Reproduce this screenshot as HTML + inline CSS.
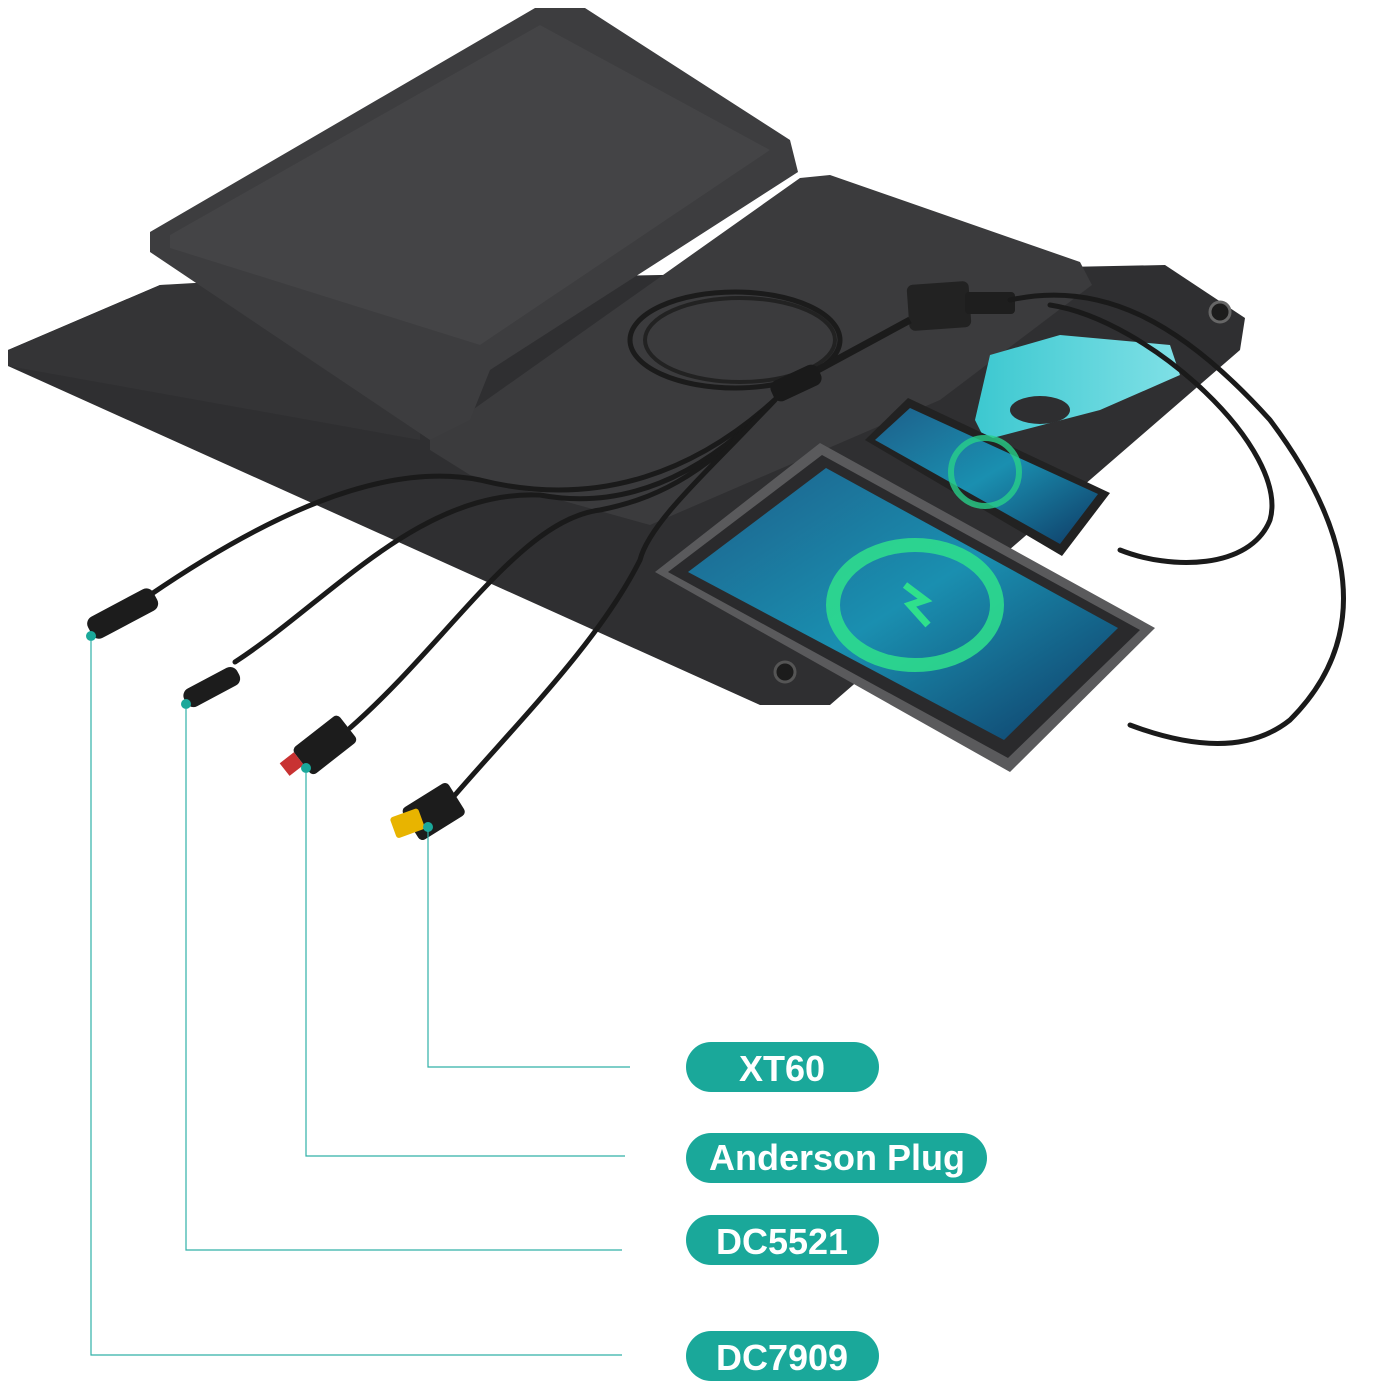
<!DOCTYPE html>
<html><head><meta charset="utf-8"><style>
html,body{margin:0;padding:0;background:#fff;}
svg{display:block}
text{font-family:"Liberation Sans",sans-serif;font-weight:bold;fill:#fff}
</style></head><body>
<svg width="1384" height="1384" viewBox="0 0 1384 1384" xmlns="http://www.w3.org/2000/svg">
<defs>
<linearGradient id="scr" x1="0" y1="0" x2="1" y2="1">
<stop offset="0" stop-color="#1d5f8a"/><stop offset="0.5" stop-color="#1a8fb0"/><stop offset="1" stop-color="#0f3b66"/>
</linearGradient>
<linearGradient id="cy" x1="0" y1="0" x2="1" y2="0">
<stop offset="0" stop-color="#3cc8d0"/><stop offset="1" stop-color="#7fe0e6"/>
</linearGradient>
</defs>
<polygon points="8,350 160,285 1165,265 1245,318 1240,350 830,705 760,705 8,366" fill="#2f2f31"/>
<polygon points="8,350 160,285 420,270 420,440 8,366" fill="#343436"/>
<circle cx="1220" cy="312" r="10" fill="#1c1c1c" stroke="#666" stroke-width="3"/>
<circle cx="785" cy="672" r="10" fill="#1c1c1c" stroke="#555" stroke-width="3"/>
<polygon points="430,440 800,178 830,175 1080,262 1092,285 940,400 650,525 470,475 430,450" fill="#3b3b3d"/>
<polygon points="150,232 535,8 585,8 790,140 798,172 490,370 470,420 430,440 150,252" fill="#3d3d3f"/>
<polygon points="170,235 540,25 770,150 480,345 170,248" fill="#444446"/>
<polygon points="990,355 1060,335 1170,345 1180,375 1100,410 985,440 975,420" fill="url(#cy)"/>
<ellipse cx="1040" cy="410" rx="30" ry="14" fill="#2e2e30"/>
<rect x="908" y="283" width="62" height="46" rx="6" fill="#222" transform="rotate(-4 939 306)"/>
<rect x="965" y="292" width="50" height="22" rx="4" fill="#1e1e1e"/>
<ellipse cx="735" cy="340" rx="105" ry="48" fill="none" stroke="#1b1b1b" stroke-width="5"/>
<ellipse cx="740" cy="340" rx="95" ry="42" fill="none" stroke="#222" stroke-width="4"/>
<path d="M790,385 L910,320" stroke="#1b1b1b" stroke-width="7" fill="none"/>
<rect x="770" y="372" width="52" height="22" rx="8" fill="#1a1a1a" transform="rotate(-25 796 383)"/>
<g stroke="#1a1a1a" stroke-width="5" fill="none" stroke-linecap="round">
<path d="M780,395 C700,470 600,510 480,480 C380,460 260,520 150,595"/>
<path d="M775,400 C700,480 620,510 540,495 C420,490 330,600 235,662"/>
<path d="M770,405 C700,480 650,500 600,510 C520,520 450,640 350,728"/>
<path d="M765,410 C720,460 650,520 640,560 C600,640 520,720 455,795"/>
<path d="M1010,300 C1100,280 1180,320 1270,420 C1330,500 1390,620 1290,720 C1240,760 1170,740 1130,725"/>
<path d="M1050,305 C1150,320 1290,450 1270,520 C1250,570 1170,570 1120,550"/>
</g>
<g transform="rotate(-28 120 615)"><rect x="86" y="603" width="74" height="24" rx="8" fill="#1c1c1c"/></g>
<g transform="rotate(-28 210 688)"><rect x="182" y="678" width="60" height="20" rx="8" fill="#1c1c1c"/></g>
<g transform="rotate(-38 320 750)"><rect x="298" y="732" width="58" height="34" rx="5" fill="#1c1c1c"/></g>
<rect x="282" y="746" width="18" height="16" fill="#c83232" transform="rotate(-38 306 758)"/>
<g transform="rotate(-32 430 815)"><rect x="408" y="795" width="54" height="38" rx="5" fill="#1c1c1c"/></g>
<rect x="392" y="812" width="30" height="22" rx="3" fill="#e8b400" transform="rotate(-20 408 822)"/>
<g fill="#1aa89a">
<circle cx="91" cy="636" r="5"/><circle cx="186" cy="704" r="5"/><circle cx="306" cy="768" r="5"/><circle cx="428" cy="827" r="5"/>
</g>
<polygon points="865,440 908,398 1110,493 1062,556" fill="#222"/>
<polygon points="875,440 910,408 1098,494 1060,544" fill="url(#scr)"/>
<circle cx="985" cy="472" r="34" fill="none" stroke="#28d08a" stroke-width="6" opacity="0.8"/>
<polygon points="655,572 820,443 1155,628 1010,772" fill="#5a5a5c"/>
<polygon points="668,572 822,455 1140,630 1008,758" fill="#2a2a2c"/>
<polygon points="688,572 826,468 1118,628 1004,740" fill="url(#scr)"/>
<ellipse cx="915" cy="605" rx="82" ry="60" fill="none" stroke="#2fe08c" stroke-width="14" opacity="0.85"/>
<path d="M905,585 L925,600 L910,605 L928,625" stroke="#2fe08c" stroke-width="7" fill="none"/>
<g stroke="#30b0a8" stroke-width="1.2" fill="none">
<polyline points="91,640 91,1355 622,1355"/>
<polyline points="186,708 186,1250 622,1250"/>
<polyline points="306,772 306,1156 625,1156"/>
<polyline points="428,831 428,1067 630,1067"/>
</g>
<g fill="#1aa89a">
<rect x="686" y="1042" width="193" height="50" rx="25"/>
<rect x="686" y="1133" width="301" height="50" rx="25"/>
<rect x="686" y="1215" width="193" height="50" rx="25"/>
<rect x="686" y="1331" width="193" height="50" rx="25"/>
</g>
<text x="782" y="1081" font-size="36" text-anchor="middle">XT60</text>
<text x="837" y="1170" font-size="36" text-anchor="middle">Anderson Plug</text>
<text x="782" y="1254" font-size="36" text-anchor="middle">DC5521</text>
<text x="782" y="1370" font-size="36" text-anchor="middle">DC7909</text>
</svg>
</body></html>
